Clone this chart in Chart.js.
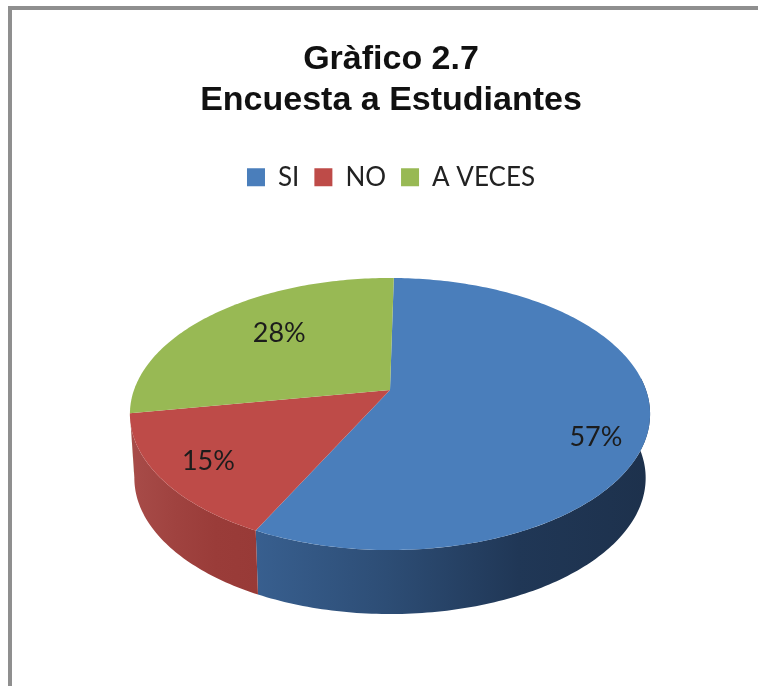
<!DOCTYPE html>
<html><head><meta charset="utf-8">
<script src="https://cdn.jsdelivr.net/npm/chart.js@4"></script>
<style>
html,body{margin:0;padding:0;background:#fff;overflow:hidden}
#wrap{position:relative;width:758px;height:686px;filter:blur(0.6px)}
#frame{position:absolute;left:8px;top:6px;right:-10px;bottom:-10px;border-left:4px solid #8f8f8f;border-top:4px solid #8f8f8f}
canvas{position:absolute;left:0;top:0}
</style></head><body>
<div id="wrap"><div id="frame"></div><canvas id="c" width="758" height="686"></canvas></div>
<script>
const titleLines = ['Gràfico 2.7', 'Encuesta a Estudiantes'];
const categories = ['SI', 'NO', 'A VECES'];
const values = [57, 15, 28];
const faceColors = ['#4a7ebb', '#be4b48', '#98b954'];
const wallShades = [
  ['#385f8f', '#2d4d75', '#203756', '#1d314c'],
  ['#a84c49', '#a04340', '#9a3c39', '#983a37'],
  ['#7a9440', '#7a9440', '#7a9440', '#7a9440']
];

// Perspective projection of the unit disc (the pie's top face)
const view = {cx: 390, cy: 390, rx: 256, ry: 131.8, k: 0.1765, depth: 64, shrink: 0.983};
function project(angle, t, lower) {
  const u = Math.cos(angle) * t, v = Math.sin(angle) * t, w = 1 - view.k * v;
  let x = view.cx + view.rx * u / w, y = view.cy + view.ry * v / w;
  if (lower) { x = view.cx + (x - view.cx) * view.shrink; y += view.depth; }
  return [x, y];
}
function drawFace(ctx) {
  const o = this.options, steps = Math.max(8, Math.ceil((this.endAngle - this.startAngle) * 60));
  ctx.beginPath();
  ctx.moveTo(view.cx, view.cy);
  for (let i = 0; i <= steps; i++) {
    const p = project(this.startAngle + (this.endAngle - this.startAngle) * i / steps, 1);
    ctx.lineTo(p[0], p[1]);
  }
  ctx.closePath();
  ctx.fillStyle = o.backgroundColor;
  ctx.fill();
}
const labelPlace = [[0.8, 22], [0.81, 1], [0.61, -8]];

const pie3d = {
  id: 'pie3d',
  afterDatasetUpdate(chart, args) { args.meta.data.forEach(el => { el.draw = drawFace; }); },
  beforeDatasetsDraw(chart) {
    const ctx = chart.ctx, arcs = chart.getDatasetMeta(0).data;
    const lo = -0.09, hi = 2.975;
    arcs.forEach((el, i) => {
      const a0 = Math.max(el.startAngle, lo), a1 = Math.min(el.endAngle, hi);
      if (a1 <= a0 + 0.001) return;
      const steps = Math.ceil((a1 - a0) * 60), top = [], bot = [];
      for (let s = 0; s <= steps; s++) {
        const a = a0 + (a1 - a0) * s / steps;
        top.push(project(a, 1)); bot.push(project(a, 1, true));
      }
      const xs = top.concat(bot).map(p => p[0]);
      const x0 = Math.min(...xs), x1 = Math.max(...xs);
      const g = ctx.createLinearGradient(x0, 0, x1, 0);
      wallShades[i].forEach((c, n) => g.addColorStop(n / (wallShades[i].length - 1), c));
      ctx.beginPath();
      top.forEach((p, n) => n ? ctx.lineTo(p[0], p[1]) : ctx.moveTo(p[0], p[1]));
      bot.reverse().forEach(p => ctx.lineTo(p[0], p[1]));
      ctx.closePath();
      ctx.fillStyle = g;
      ctx.fill();
    });
  },
  afterDatasetsDraw(chart) {
    const ctx = chart.ctx, arcs = chart.getDatasetMeta(0).data;
    ctx.save();
    ctx.font = '27px Lato';
    ctx.textAlign = 'center';
    ctx.textBaseline = 'middle';
    ctx.fillStyle = '#1c1c1c';
    arcs.forEach((el, i) => {
      const p = project((el.startAngle + el.endAngle) / 2, labelPlace[i][0]);
      ctx.fillText(values[i] + '%', p[0], p[1] + labelPlace[i][1]);
    });
    ctx.restore();
  }
};

new Chart(document.getElementById('c'), {
  type: 'pie',
  data: {labels: categories, datasets: [{data: values, backgroundColor: faceColors, borderWidth: 0}]},
  options: {
    responsive: false, animation: false, rotation: 1,
    layout: {padding: {top: 40, left: 24}},
    plugins: {
      title: {display: true, text: titleLines, color: '#111',
        font: {family: 'Liberation Sans', size: 34, weight: 'bold', lineHeight: 1.18}, padding: {top: 0, bottom: 29}},
      legend: {position: 'top', labels: {boxWidth: 18, boxHeight: 18, padding: 15, color: '#222',
        font: {family: 'Lato', size: 26}}},
      tooltip: {enabled: false}
    }
  },
  plugins: [pie3d]
});
</script>
</body></html>
